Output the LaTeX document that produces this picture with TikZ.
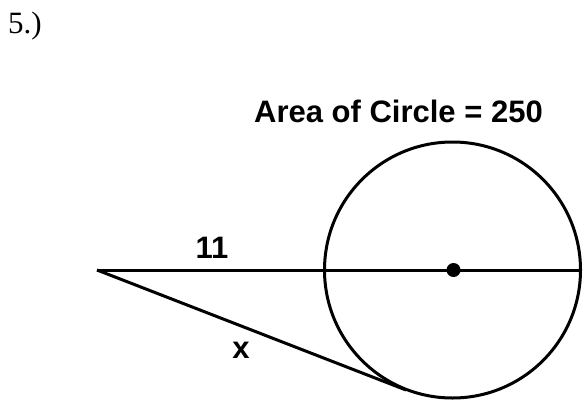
\documentclass[tikz,border=0pt]{standalone}
\usepackage{fontspec}
\setmainfont{Liberation Serif}
\newfontfamily\arialfont{Liberation Sans}
\begin{document}
\begin{tikzpicture}[x=1pt,y=-1pt,
  geo/.style={line width=3pt, draw=black},
  lbl/.style={font=\arialfont\bfseries\fontsize{31}{36}\selectfont, inner sep=0pt, anchor=base},
  num/.style={font=\fontsize{31}{36}\selectfont, inner sep=0pt, anchor=base west}]
\useasboundingbox (0,0) rectangle (588,412);
\coordinate (P) at (97,270);
\coordinate (T) at (406,390);
\node[circle, geo, minimum size=256pt, inner sep=0pt] (circ) at (452.5,270) {};
\node[circle, fill=black, minimum size=14pt, inner sep=0pt] (ctr) at (453.5,270) {};
\draw[geo] (P) -- (circ.east);
\draw[geo] (P) -- (T);
\node[num] (prob) at (8,34) {5.)};
\node[lbl] (title) at (398.5,122) {Area of Circle = 250};
\node[lbl] (eleven) at (212,258) {11};
\node[lbl] (xlab) at (241,358) {x};
\end{tikzpicture}
\end{document}
